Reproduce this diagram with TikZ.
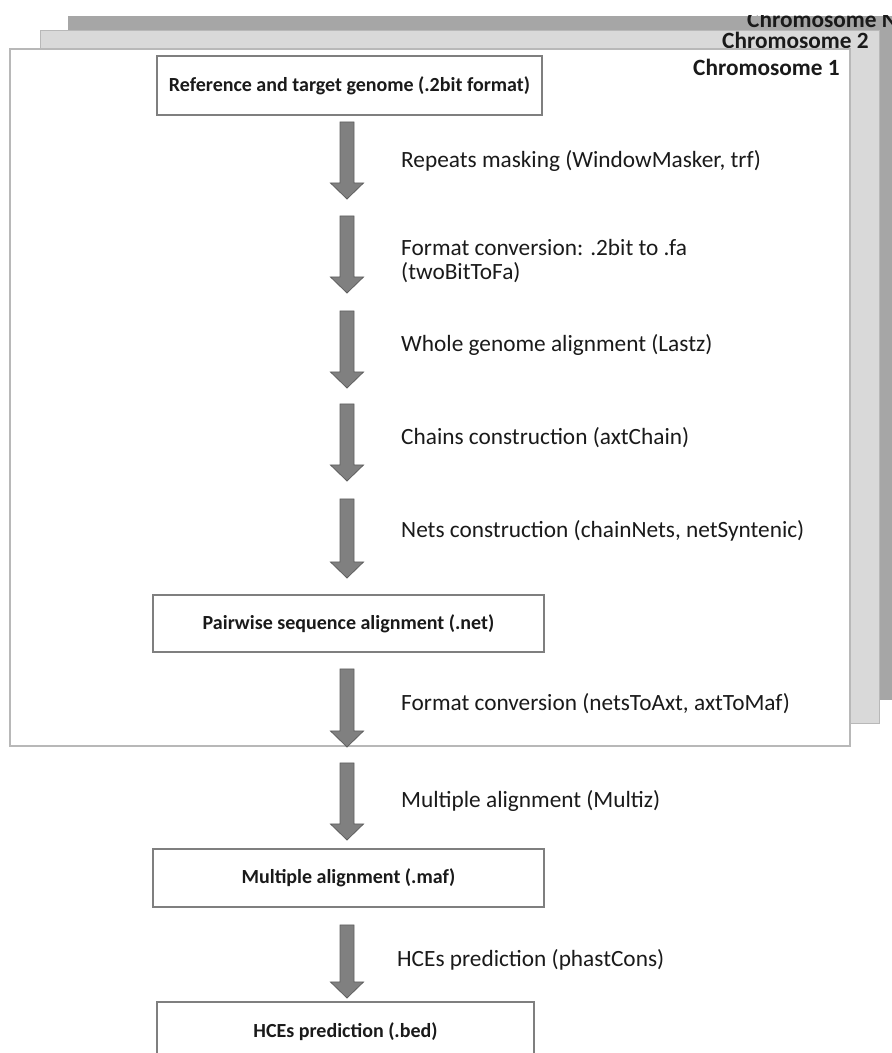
\documentclass[tikz,border=0pt]{standalone}
\usepackage{fontspec}
\setmainfont{Carlito}
\usetikzlibrary{calc}
\definecolor{sheetdark}{HTML}{A6A6A6}
\definecolor{sheetlight}{HTML}{D9D9D9}
\definecolor{sheetedge}{HTML}{B8B8B8}
\definecolor{boxedge}{HTML}{7F7F7F}
\definecolor{arrowfill}{HTML}{808080}
\definecolor{arrowedge}{HTML}{5F5F5F}
\definecolor{ink}{HTML}{1A1A1A}
\tikzset{
  procbox/.style={draw=boxedge, line width=1.6pt, fill=white, text=ink,
    font=\fontsize{20}{23}\selectfont\bfseries, inner sep=0pt},
  steplabel/.style={anchor=base west, text=ink, inner sep=0pt,
    font=\fontsize{23.3}{27}\selectfont},
  chromlabel/.style={anchor=base west, text=ink, inner sep=0pt,
    font=\fontsize{23.3}{27}\selectfont\bfseries},
  blockarrow/.style={fill=arrowfill, draw=arrowedge, line width=0.8pt, line join=miter}
}
\newcommand{\blkarrow}[2]{%
  \draw[blockarrow] let \p1=(#1), \p2=(#2) in
    (\x1-7pt,\y1) -- (\x1+7pt,\y1) -- (\x1+7pt,\y2+16pt) -- (\x1+16.5pt,\y2+16pt)
    -- (\x2,\y2) -- (\x1-16.5pt,\y2+16pt) -- (\x1-7pt,\y2+16pt) -- cycle;}
\begin{document}
\begin{tikzpicture}[x=1pt,y=1pt]
\useasboundingbox (0,0) rectangle (892,1053);
\clip (0,0) rectangle (892,1053);
% stacked sheets
\fill[sheetdark] (68,1037) rectangle (910,353);
\begin{scope}
  \clip (0,1037) rectangle (892,0);
  \node[chromlabel] (chN) at (747,1025) {Chromosome N};
\end{scope}
\filldraw[fill=sheetlight, draw=sheetedge, line width=0.8pt] (40,1023) rectangle (879,330);
\node[chromlabel] (ch2) at (722,1004) {Chromosome 2};
\filldraw[fill=white, draw=sheetedge, line width=1.6pt] (10,1004) rectangle (850,307);
\node[chromlabel] (ch1) at (693,977) {Chromosome 1};
% boxes
\node[procbox, minimum width=385pt, minimum height=59pt] (b1) at (349.5,967.5) {Reference and target genome (.2bit format)};
\node[procbox, minimum width=391pt, minimum height=57pt] (b2) at (348.5,429.5) {Pairwise sequence alignment (.net)};
\node[procbox, minimum width=391pt, minimum height=58pt] (b3) at (348.5,175) {Multiple alignment (.maf)};
\node[procbox, minimum width=377pt, minimum height=60pt] (b4) at (345.5,21) {HCEs prediction (.bed)};
% arrow end points
\coordinate (a1s) at (347,931); \coordinate (a1e) at (347,854);
\coordinate (a2s) at (347,837); \coordinate (a2e) at (347,760);
\coordinate (a3s) at (347,742); \coordinate (a3e) at (347,665);
\coordinate (a4s) at (347,649); \coordinate (a4e) at (347,572);
\coordinate (a5s) at (347,554); \coordinate (a5e) at (347,475);
\coordinate (a6s) at (347,384); \coordinate (a6e) at (347,306);
\coordinate (a7s) at (347,290); \coordinate (a7e) at (347,213);
\coordinate (a8s) at (347,128); \coordinate (a8e) at (347,55);
\blkarrow{a1s}{a1e}
\blkarrow{a2s}{a2e}
\blkarrow{a3s}{a3e}
\blkarrow{a4s}{a4e}
\blkarrow{a5s}{a5e}
\blkarrow{a6s}{a6e}
\blkarrow{a7s}{a7e}
\blkarrow{a8s}{a8e}
% step labels
\node[steplabel] (l1) at (401,885) {Repeats masking (WindowMasker, trf)};
\node[steplabel] (l2a) at (401,797) {Format conversion: .2bit to .fa};
\node[steplabel] (l2b) at (401,773) {(twoBitToFa)};
\node[steplabel] (l3) at (401,701) {Whole genome alignment (Lastz)};
\node[steplabel] (l4) at (401,608) {Chains construction (axtChain)};
\node[steplabel] (l5) at (401,515) {Nets construction (chainNets, netSyntenic)};
\node[steplabel] (l6) at (401,342) {Format conversion (netsToAxt, axtToMaf)};
\node[steplabel] (l7) at (401,245) {Multiple alignment (Multiz)};
\node[steplabel] (l8) at (397,86) {HCEs prediction (phastCons)};
\end{tikzpicture}
\end{document}
